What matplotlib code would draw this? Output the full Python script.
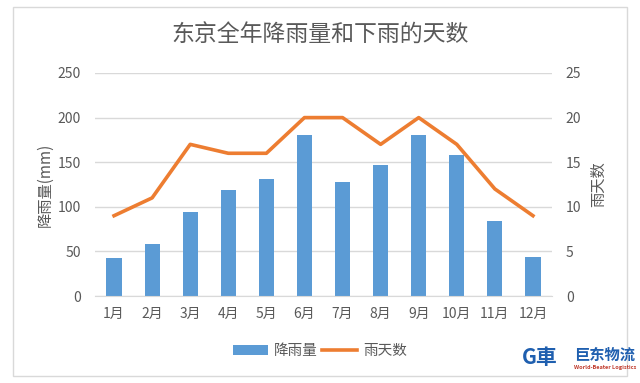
import matplotlib.pyplot as plt
from matplotlib.patches import Rectangle
import numpy as np

plt.rcParams['font.family'] = ['Noto Sans CJK SC', 'DejaVu Sans']

# data
months = ['1月', '2月', '3月', '4月', '5月', '6月', '7月', '8月', '9月', '10月', '11月', '12月']
rain_mm = [43, 58, 94, 119, 131, 181, 128, 147, 181, 158, 84, 44]
rain_days = [9, 11, 17, 16, 16, 20, 20, 17, 20, 17, 12, 9]

grey = '#595959'
blue = '#5B9BD5'
orange = '#ED7D31'

fig = plt.figure(figsize=(6.4, 3.83), dpi=100)
# outer light border like the excel chart frame
fig.patches.append(Rectangle((13/640, 1-376/383), 614/640, 369/383, transform=fig.transFigure,
                             fill=False, edgecolor='#D9D9D9', linewidth=1))

ax = fig.add_axes([95/640, 1-296/383, 457/640, 223/383])
x = np.arange(len(months))
bars = ax.bar(x, rain_mm, width=0.4, color=blue, label='降雨量', zorder=2)
ax.set_ylim(0, 250)
ax.set_yticks(np.arange(0, 251, 50))
ax.set_xlim(-0.5, 11.5)
ax.set_xticks(x)
ax.set_xticklabels(months)
ax.grid(axis='y', color='#D9D9D9', linewidth=1, zorder=0)
for s in ['top', 'left', 'right']:
    ax.spines[s].set_visible(False)
ax.spines['bottom'].set_color('#D9D9D9')
ax.tick_params(length=0, colors=grey, labelsize=10)
ax.tick_params(axis='x', pad=8)
ax.tick_params(axis='y', pad=10)
ax.set_ylabel('降雨量(mm)', color=grey, fontsize=11, labelpad=3)

ax2 = ax.twinx()
line, = ax2.plot(x, rain_days, color=orange, linewidth=2.6, label='雨天数', zorder=3)
ax2.set_ylim(0, 25)
ax2.set_yticks(np.arange(0, 26, 5))
for s in ['top', 'left', 'right', 'bottom']:
    ax2.spines[s].set_visible(False)
ax2.tick_params(length=0, colors=grey, labelsize=10, pad=10)
ax2.set_ylabel('雨天数', color=grey, fontsize=11, labelpad=6)

fig.text(0.5, 1-35/383, '东京全年降雨量和下雨的天数', ha='center', va='center',
         fontsize=16.5, color=grey)

fig.legend([bars, line], ['降雨量', '雨天数'], loc='center', bbox_to_anchor=(320/640, 1-351/383),
           ncol=2, frameon=False, fontsize=10.5, labelcolor=grey, handlelength=2.4,
           handletextpad=0.4, columnspacing=0.3)

# watermark logo text
fig.text(605/640, 1-355/383, '巨东物流', ha='center', va='center', fontsize=11,
         color='#1F5FAF', fontweight='bold')
fig.text(605/640, 1-368/383, 'World-Beater Logistics', ha='center', va='center',
         fontsize=4, color='#C0392B', fontweight='bold')
fig.text(540/640, 1-357/383, 'G車', ha='center', va='center', fontsize=15,
         color='#1F5FAF', fontweight='bold', style='italic')

fig.savefig('out.png', dpi=100)
